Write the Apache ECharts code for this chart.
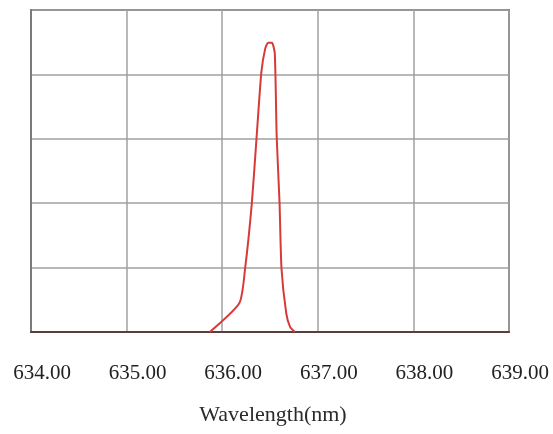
<!DOCTYPE html>
<html><head><meta charset="utf-8">
<script src="https://cdn.jsdelivr.net/npm/echarts@6/dist/echarts.min.js"></script>
<style>html,body{margin:0;padding:0;background:#fff}#c{width:553px;height:434px}</style>
</head><body><div id="c"></div>
<script>
var wavelength = [635.87, 636.18, 636.24, 636.31, 636.36, 636.41, 636.45, 636.48, 636.52, 636.55, 636.57, 636.60, 636.62, 636.67, 636.71, 636.76];
var intensity  = [0, 0.45, 0.99, 2.0, 3.03, 4.04, 4.40, 4.49, 4.49, 4.33, 3.03, 2.0, 0.99, 0.29, 0.08, 0];
var xTicks = [634, 635, 636, 637, 638, 639];
var xName = 'Wavelength(nm)';

var chart = echarts.init(document.getElementById('c'));
chart.setOption({
  animation: false,
  grid: {left: 31, right: 44, top: 10, bottom: 102, show: true, borderColor: '#7a7a7a', borderWidth: 2},
  xAxis: {
    type: 'value', min: xTicks[0], max: xTicks[xTicks.length-1], interval: 1,
    name: xName, nameLocation: 'middle', nameGap: 72,
    nameTextStyle: {fontFamily: 'Liberation Serif', fontSize: 22, color: '#2a2a2a', padding: [0,0,0,6]},
    axisLine: {lineStyle: {color: '#5a3e3e', width: 2}},
    axisTick: {show: false},
    axisLabel: {margin: 31, fontFamily: 'Liberation Serif', fontSize: 21, color: '#222', padding: [0,0,0,22],
      formatter: function(v){ return v.toFixed(2); }},
    splitLine: {show: true, lineStyle: {color: '#a0a0a0', width: 1.5}}
  },
  yAxis: {
    type: 'value', min: 0, max: 5, interval: 1,
    axisLabel: {show: false}, axisTick: {show: false},
    axisLine: {show: true, lineStyle: {color: '#7a7a7a', width: 2}},
    splitLine: {show: true, lineStyle: {color: '#a0a0a0', width: 1.5}}
  },
  series: [{
    type: 'line', data: wavelength.map(function(x,i){return [x, intensity[i]];}),
    symbol: 'none', smooth: 0.2, lineStyle: {color: '#d83a3a', width: 2}
  }]
});
</script></body></html>
